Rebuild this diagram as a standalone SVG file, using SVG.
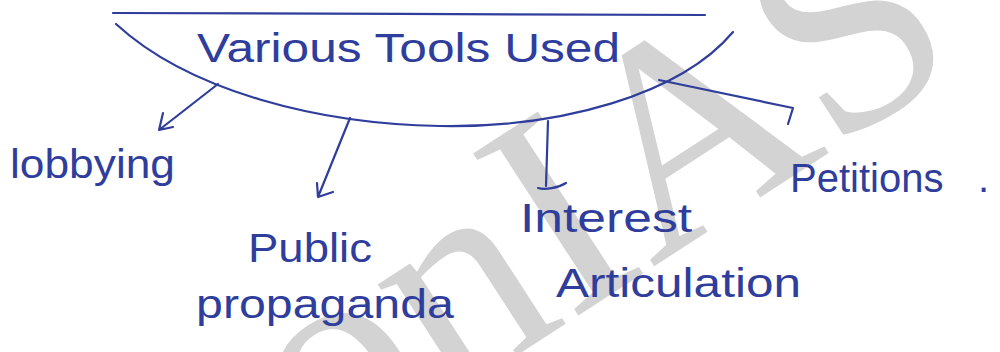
<svg xmlns="http://www.w3.org/2000/svg" width="1000" height="352" viewBox="0 0 1000 352">
  <style>
    .ink { fill: none; stroke: #2f3d9c; stroke-width: 2.2; stroke-linecap: round; stroke-linejoin: round; }
    .label { font-family: "Liberation Sans", "DejaVu Sans", sans-serif; fill: #2f3d9c; font-size: 40px; }
    .mark { font-family: "Liberation Serif", "DejaVu Serif", serif; fill: #d3d3d3; font-size: 295px; }
  </style>

  <rect width="1000" height="352" fill="#ffffff"/>

  <!-- faint watermark behind the ink -->
  <g id="watermark">
    <text class="mark" transform="translate(322,482) rotate(-33)">onIAS</text>
  </g>

  <!-- central bowl holding the heading -->
  <g id="tools">
    <path class="ink" d="M113,13 C300,12 520,16 705,15"/>
    <path class="ink" d="M116,24 C190,92 320,124 440,126 C560,128 680,95 733,32"/>
    <text class="label" x="197" y="62" font-size="42" textLength="423" lengthAdjust="spacingAndGlyphs">Various Tools Used</text>
  </g>

  <!-- connectors from the bowl to each tool -->
  <g id="connectors">
    <path class="ink" d="M218,84 L159,130 M163,113 L159,130 L173,127"/>
    <path class="ink" d="M350,118 L318,197 M317,183 L318,197 L333,192"/>
    <path class="ink" d="M548,121 L546,186 M538,188 C545,190 558,188 566,183"/>
    <path class="ink" d="M659,80 L793,108 L788,124"/>
  </g>

  <g id="lobbying">
    <text class="label" x="10" y="178" textLength="165" lengthAdjust="spacingAndGlyphs">lobbying</text>
  </g>

  <g id="public-propaganda">
    <text class="label" x="248" y="262" textLength="124" lengthAdjust="spacingAndGlyphs">Public</text>
    <text class="label" x="196" y="318" textLength="258" lengthAdjust="spacingAndGlyphs">propaganda</text>
  </g>

  <g id="interest-articulation">
    <text class="label" x="520" y="232" font-size="38" textLength="172" lengthAdjust="spacingAndGlyphs">Interest</text>
    <text class="label" x="556" y="297" textLength="245" lengthAdjust="spacingAndGlyphs">Articulation</text>
  </g>

  <g id="petitions">
    <text class="label" x="790" y="192">Petitions <tspan x="978">.</tspan></text>
  </g>
</svg>
